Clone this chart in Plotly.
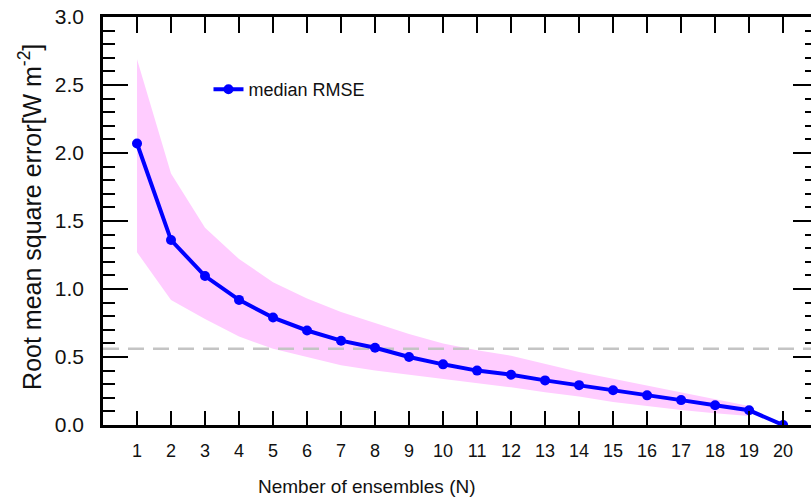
import plotly.graph_objects as go

# ---- data ----
N = list(range(1, 21))
median_rmse = [2.07, 1.36, 1.095, 0.92, 0.79, 0.695, 0.62, 0.568, 0.50, 0.446,
               0.40, 0.37, 0.328, 0.293, 0.256, 0.218, 0.183, 0.145, 0.108, 0.0]
band_N = list(range(1, 20))
band_upper = [2.69, 1.85, 1.45, 1.22, 1.05, 0.93, 0.83, 0.75, 0.67, 0.60,
              0.55, 0.51, 0.45, 0.39, 0.34, 0.29, 0.24, 0.19, 0.14]
band_lower = [1.27, 0.92, 0.78, 0.65, 0.56, 0.50, 0.44, 0.40, 0.37, 0.335,
              0.305, 0.277, 0.24, 0.21, 0.17, 0.14, 0.11, 0.086, 0.066]
ref_rmse = 0.56
x_ticks = list(range(1, 21))
y_ticks = [0.0, 0.5, 1.0, 1.5, 2.0, 2.5, 3.0]
y_tick_text = ["%.1f" % v for v in y_ticks]

SANS = "Liberation Sans, Arial, Helvetica, sans-serif"

fig = go.Figure()
fig.add_trace(go.Scatter(x=band_N, y=band_lower, mode="lines", line=dict(width=0, color="#ffccff"),
                         showlegend=False, hoverinfo="skip"))
fig.add_trace(go.Scatter(x=band_N, y=band_upper, mode="lines", line=dict(width=0, color="#ffccff"),
                         fill="tonexty", fillcolor="#ffccff", showlegend=False, hoverinfo="skip"))
fig.add_trace(go.Scatter(x=[0, 21], y=[ref_rmse, ref_rmse], mode="lines",
                         line=dict(color="#c4c4c4", width=2.5, dash="16px,9px"),
                         showlegend=False, hoverinfo="skip"))
fig.add_trace(go.Scatter(x=N, y=median_rmse, mode="lines+markers", name="median RMSE",
                         line=dict(color="#0000ff", width=4),
                         marker=dict(color="#0000ff", size=10)))
# invisible trace to activate top/right mirror axes
fig.add_trace(go.Scatter(x=[1], y=[1], xaxis="x2", yaxis="y2", mode="markers",
                         marker=dict(opacity=0), showlegend=False, hoverinfo="skip"))

XR = [0, 20.82]
fig.update_layout(
    width=811, height=503,
    margin=dict(l=103, r=0, t=17, b=78, autoexpand=False),
    paper_bgcolor="white", plot_bgcolor="white",
    showlegend=True,
    legend=dict(x=0.149, y=0.822, xanchor="left", yanchor="middle",
                bgcolor="rgba(0,0,0,0)", font=dict(family=SANS, size=18, color="#111")),
    xaxis=dict(range=XR, tickmode="array", tickvals=x_ticks, ticktext=[str(v) for v in x_ticks],
               ticks="inside", ticklen=14, tickwidth=2, tickcolor="black", automargin=False,
               showline=True, linewidth=2.5, linecolor="black", showgrid=False, zeroline=False,
               tickfont=dict(family=SANS, size=18, color="#111"), ticklabelstandoff=8),
    xaxis2=dict(range=XR, overlaying="x", side="top", tickmode="array", tickvals=x_ticks,
                ticks="inside", ticklen=16, tickwidth=2, tickcolor="black", showticklabels=False,
                automargin=False,
                showline=True, linewidth=2.5, linecolor="black", showgrid=False, zeroline=False),
    yaxis=dict(range=[0, 3], tickmode="array", tickvals=y_ticks, ticktext=y_tick_text,
               ticks="inside", ticklen=25, tickwidth=2, tickcolor="black", automargin=False,
               minor=dict(dtick=0.1, ticks="inside", ticklen=12, tickwidth=2, tickcolor="black", showgrid=False),
               showline=True, linewidth=2.5, linecolor="black", showgrid=False, zeroline=False,
               tickfont=dict(family=SANS, size=21, color="#111"), ticklabelstandoff=12),
    yaxis2=dict(range=[0, 3], overlaying="y", side="right", tickmode="array", tickvals=y_ticks,
                ticks="inside", ticklen=18, tickwidth=2, tickcolor="black", showticklabels=False,
                automargin=False,
                minor=dict(dtick=0.1, ticks="inside", ticklen=6, tickwidth=2, tickcolor="black", showgrid=False),
                showline=False, showgrid=False, zeroline=False),
    annotations=[
        dict(text="Nember of ensembles (N)", xref="paper", yref="paper",
             x=(367 - 103) / 708, y=-(487 - 425) / 408, xanchor="center", yanchor="middle",
             showarrow=False, font=dict(family=SANS, size=19, color="#111")),
        dict(text="Root mean square error[W m<sup>-2</sup>]", xref="paper", yref="paper",
             x=-(103 - 30) / 708, y=0.51, xanchor="center", yanchor="middle", textangle=-90,
             showarrow=False, font=dict(family=SANS, size=25, color="#111")),
    ],
)
fig.write_html("out.html", config={"displayModeBar": False},
               post_script="document.body.style.margin='0';document.body.style.overflow='hidden';")
